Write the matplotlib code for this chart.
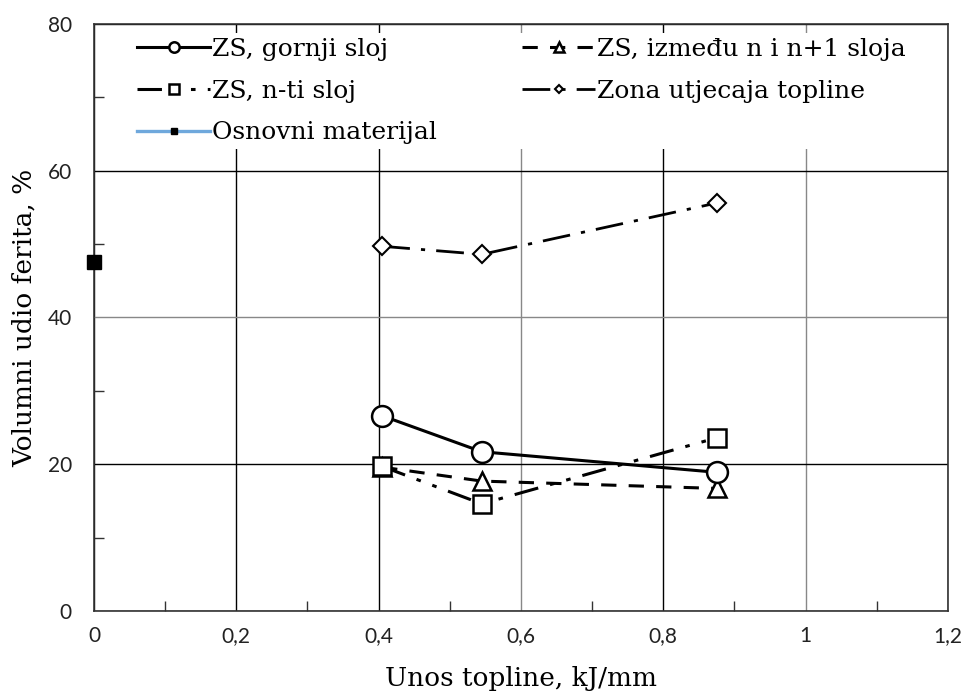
import matplotlib
matplotlib.use('Agg')
import matplotlib.pyplot as plt
from matplotlib.ticker import MultipleLocator, FuncFormatter

# data
x_unos = [0.405, 0.545, 0.875]
gornji = [26.6, 21.7, 18.9]
n_ti = [19.7, 14.6, 23.6]
izmedju = [19.6, 17.7, 16.7]
zona = [49.7, 48.6, 55.6]
osnovni_x = [0.0]
osnovni_y = [47.6]

labels = ['ZS, gornji sloj', 'ZS, n-ti sloj', 'Osnovni materijal',
          'ZS, između n i n+1 sloja', 'Zona utjecaja topline']

serif = 'DejaVu Serif'
tickfont = 'Lato'

fig = plt.figure(figsize=(9.62, 6.95), dpi=100)
ax = fig.add_axes([0.0977, 0.1209, 0.8877, 0.8446])

l1, = ax.plot(x_unos, gornji, color='black', lw=2.2, ls='-', marker='o', ms=15,
              mfc='white', mec='black', mew=1.8, zorder=5)
l2, = ax.plot(x_unos, n_ti, color='black', lw=2.2, ls=(0, (8, 4, 1.5, 4, 1.5, 4)),
              marker='s', ms=13, mfc='white', mec='black', mew=1.8, zorder=5)
l3, = ax.plot(osnovni_x, osnovni_y, color='#6fa8dc', lw=2.4, marker='s', ms=10,
              mfc='black', mec='black', clip_on=False, zorder=6)
l4, = ax.plot(x_unos, izmedju, color='black', lw=2.2, ls=(0, (5, 4)),
              marker='^', ms=13, mfc='white', mec='black', mew=1.8, zorder=4)
l5, = ax.plot(x_unos, zona, color='black', lw=2.0, ls=(0, (10, 4, 1.5, 4)),
              marker='D', ms=9, mfc='white', mec='black', mew=1.5, zorder=5)

ax.set_xlim(0, 1.2)
ax.set_ylim(0, 80)
ax.xaxis.set_major_locator(MultipleLocator(0.2))
ax.xaxis.set_minor_locator(MultipleLocator(0.1))
ax.yaxis.set_major_locator(MultipleLocator(20))
ax.yaxis.set_minor_locator(MultipleLocator(10))
ax.xaxis.set_major_formatter(FuncFormatter(lambda v, p: ('%g' % round(v, 1)).replace('.', ',')))
ax.yaxis.set_major_formatter(FuncFormatter(lambda v, p: '%d' % v))

ax.tick_params(which='major', length=0, labelsize=15, labelcolor='#222222')
ax.tick_params(axis='x', which='major', pad=11)
ax.tick_params(axis='y', which='major', pad=16)
ax.tick_params(which='minor', direction='in', length=7, width=1, color='#333333')
for t in ax.get_xticklabels() + ax.get_yticklabels():
    t.set_fontfamily(tickfont)

ax.grid(True, which='major', color='black', lw=1.0)
ax.set_axisbelow(True)
# some grid lines render lighter in the original
for v, gl in zip(ax.get_xticks(), ax.get_xgridlines()):
    if abs(v - 0.6) < 1e-6 or abs(v - 1.0) < 1e-6:
        gl.set_color('#888888')
for v, gl in zip(ax.get_yticks(), ax.get_ygridlines()):
    if abs(v - 40) < 1e-6:
        gl.set_color('#888888')

for s in ax.spines.values():
    s.set_color('#333333')
    s.set_linewidth(1.2)

ax.set_xlabel('Unos topline, kJ/mm', fontsize=19, family=serif, labelpad=14)
ax.set_ylabel('Volumni udio ferita, %', fontsize=19, family=serif, labelpad=8)

leg = ax.legend([l1, l2, l3, l4, l5], labels, ncol=2, loc='upper left',
                bbox_to_anchor=(0.045, 0.985), frameon=True, framealpha=1,
                edgecolor='none', facecolor='white', markerscale=0.5,
                handlelength=2.9, handletextpad=0.1, columnspacing=3.4,
                labelspacing=0.75, borderpad=0.2, borderaxespad=0.0,
                prop={'family': serif, 'size': 18}, fancybox=False)
leg.set_zorder(10)

fig.savefig('out.png', dpi=100)
